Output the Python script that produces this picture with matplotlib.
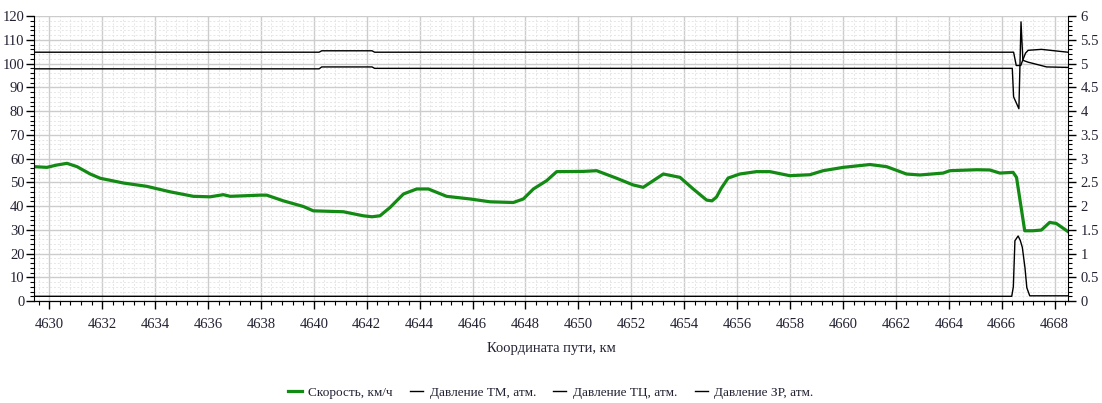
# График скорости и давлений по координате пути
import matplotlib
matplotlib.use("Agg")
import matplotlib.pyplot as plt
from matplotlib.ticker import MultipleLocator, FuncFormatter

# Скорость, км/ч (левая ось)
speed_km = [4629.43, 4629.91, 4630.29, 4630.67, 4631.05, 4631.55, 4631.93, 4632.81,
            4633.69, 4634.57, 4635.45, 4636.08, 4636.58, 4636.84, 4637.97, 4638.22,
            4638.85, 4639.61, 4639.98, 4641.12, 4641.87, 4642.20, 4642.50, 4642.88,
            4643.39, 4643.89, 4644.33, 4645.02, 4645.90, 4646.66, 4647.54, 4647.92,
            4648.30, 4648.80, 4649.18, 4650.19, 4650.69, 4651.45, 4652.07, 4652.45,
            4652.83, 4653.21, 4653.84, 4654.34, 4654.85, 4655.05, 4655.22, 4655.40,
            4655.66, 4656.10, 4656.73, 4657.24, 4657.99, 4658.75, 4659.25, 4660.01,
            4661.02, 4661.65, 4662.40, 4662.91, 4663.79, 4664.04, 4665.05, 4665.55,
            4665.93, 4666.43, 4666.56, 4666.87, 4667.18, 4667.50, 4667.81, 4668.06,
            4668.50]
speed = [56.6, 56.3, 57.3, 58.0, 56.6, 53.5, 51.7, 49.7,
         48.3, 46.0, 44.1, 43.9, 44.8, 44.1, 44.6, 44.6,
         42.2, 39.8, 38.0, 37.6, 35.9, 35.5, 35.9, 39.4,
         45.1, 47.2, 47.2, 44.1, 43.0, 41.8, 41.5, 43.0,
         47.2, 50.7, 54.5, 54.6, 54.9, 51.7, 48.9, 47.9,
         50.7, 53.5, 52.1, 47.2, 42.5, 42.2, 43.8, 47.5,
         51.8, 53.5, 54.5, 54.5, 52.8, 53.2, 54.9, 56.3,
         57.5, 56.6, 53.5, 53.1, 53.9, 54.9, 55.3, 55.2,
         53.9, 54.2, 52.1, 29.6, 29.6, 29.9, 33.1, 32.7,
         29.3]

# Давление ТМ, атм. (правая ось)
tm_km = [4629.43, 4640.20, 4640.30, 4642.20, 4642.30, 4666.40, 4666.45, 4666.65,
         4666.73, 4666.80, 4667.00, 4667.70, 4668.50]
tm = [4.89, 4.89, 4.93, 4.93, 4.90, 4.90, 4.30, 4.05,
      5.88, 5.07, 5.03, 4.93, 4.92]

# Давление ТЦ, атм.
tc_km = [4629.43, 4666.38, 4666.44, 4666.50, 4666.62, 4666.70, 4666.78, 4666.88,
         4666.95, 4667.06, 4668.50]
tc = [0.10, 0.10, 0.30, 1.27, 1.37, 1.28, 1.13, 0.70, 0.28, 0.11, 0.11]

# Давление ЗР, атм.
zr_km = [4629.43, 4640.20, 4640.30, 4642.20, 4642.30, 4666.45, 4666.55, 4666.72,
         4666.78, 4666.90, 4667.00, 4667.50, 4668.00, 4668.50]
zr = [5.24, 5.24, 5.27, 5.27, 5.24, 5.24, 4.96, 4.96,
      5.05, 5.22, 5.28, 5.30, 5.27, 5.24]

plt.rcParams['font.family'] = ['Liberation Serif', 'DejaVu Serif']
txt = '#222233'

fig = plt.figure(figsize=(11.02, 4.03), dpi=100)
ax = fig.add_axes([0.031, 0.253, 0.938, 0.707])
ax2 = ax.twinx()

l1, = ax.plot(speed_km, speed, color='#138a13', lw=2.3, label='Скорость, км/ч')
l2, = ax2.plot(tm_km, tm, color='black', lw=1.0, label='Давление ТМ, атм.')
l3, = ax2.plot(tc_km, tc, color='black', lw=1.0, label='Давление ТЦ, атм.')
l4, = ax2.plot(zr_km, zr, color='black', lw=1.0, label='Давление ЗР, атм.')

ax.set_xlim(4629.43, 4668.5)
ax.set_ylim(0, 120)
ax2.set_ylim(0, 6)

ax.xaxis.set_major_locator(MultipleLocator(2))
ax.xaxis.set_minor_locator(MultipleLocator(0.4))
ax.yaxis.set_major_locator(MultipleLocator(10))
ax.yaxis.set_minor_locator(MultipleLocator(2))
ax2.yaxis.set_major_locator(MultipleLocator(0.5))
ax2.yaxis.set_minor_locator(MultipleLocator(0.1))
ax2.yaxis.set_major_formatter(FuncFormatter(lambda v, p: '%g' % v))

ax.grid(which='major', color='#cccccc', lw=1.0)
ax.grid(which='minor', color='#e6e6e6', lw=0.7, ls=(0, (2, 2)))
ax.set_axisbelow(True)

for a in (ax, ax2):
    a.spines['top'].set_visible(False)
    a.tick_params(which='major', length=6, width=1, colors='black', labelcolor=txt, labelsize=10.5)
    a.tick_params(which='minor', length=3, width=0.8, colors='black')
ax.spines['right'].set_visible(False)
ax2.spines['left'].set_visible(False)
ax.tick_params(axis='y', pad=1)
ax2.tick_params(axis='y', pad=3)
ax.tick_params(axis='x', pad=6)

ax.set_xlabel('Координата пути, км', color=txt, fontsize=10.5, labelpad=8)

fig.legend(handles=[l1, l2, l3, l4], loc='center', bbox_to_anchor=(0.5, 0.025),
           ncol=4, frameon=False, handlelength=1.0, handletextpad=0.5,
           columnspacing=1.3, fontsize=9.5, labelcolor=txt)

fig.savefig('out.png', dpi=100)
